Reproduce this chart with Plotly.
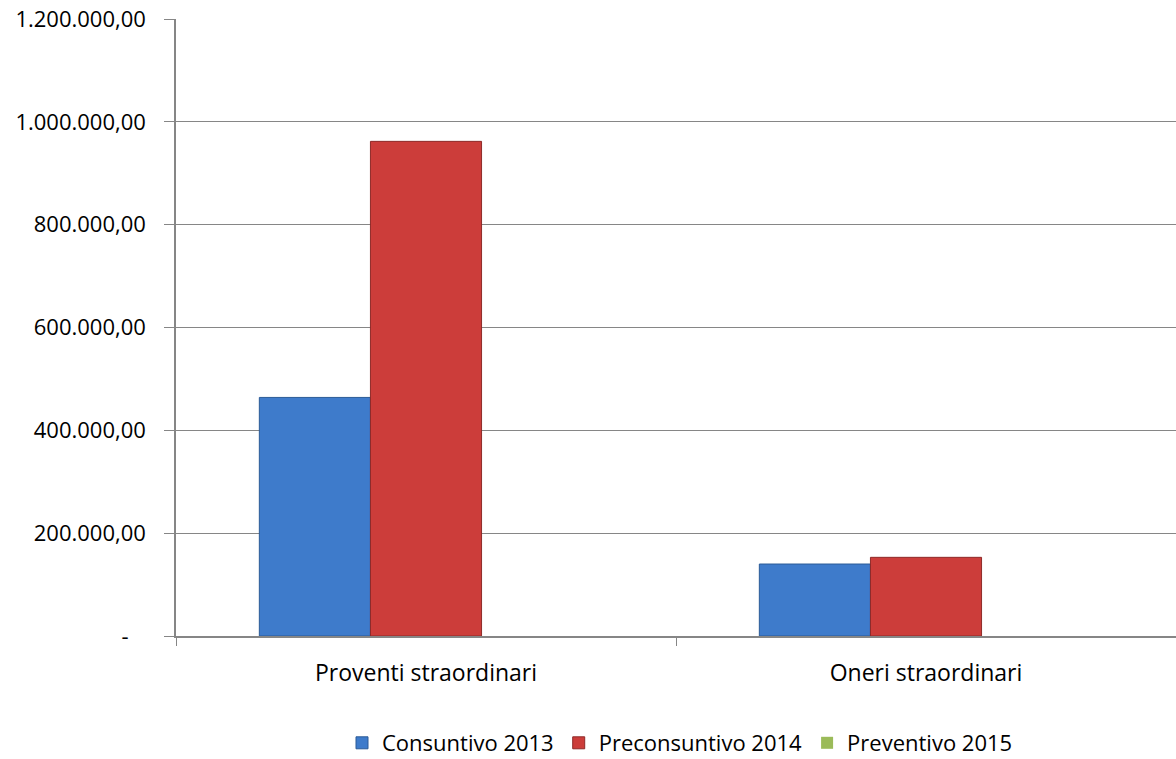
import plotly.graph_objects as go

categories = ["Proventi straordinari", "Oneri straordinari"]
consuntivo_2013 = [464000, 140000]
preconsuntivo_2014 = [962000, 153000]
preventivo_2015 = [0, 0]

series_names = ["Consuntivo 2013", "Preconsuntivo 2014", "Preventivo 2015"]
y_tickvals = [0, 200000, 400000, 600000, 800000, 1000000, 1200000]
y_ticktext = ["-\u00a0\u00a0\u00a0", "200.000,00", "400.000,00", "600.000,00", "800.000,00",
              "1.000.000,00", "1.200.000,00"]

colors = ["#3E7BCB", "#CC3D3A", "#9BBB59"]
line_colors = ["#2B5B97", "#8E2A28", "#71893F"]
line_widths = [1, 1, 0]

fig = go.Figure()
for name, vals, c, lc, lw in zip(series_names,
                                 [consuntivo_2013, preconsuntivo_2014, preventivo_2015],
                                 colors, line_colors, line_widths):
    fig.add_trace(go.Bar(name=name, x=categories, y=vals,
                         marker=dict(color=c, line=dict(color=lc, width=lw))))

font_family = "Open Sans, Liberation Sans, sans-serif"
fig.update_layout(
    width=1176, height=759,
    margin=dict(l=176, r=0, t=19, b=123),
    paper_bgcolor="white", plot_bgcolor="white",
    barmode="group", bargap=1.5 / 4.5, bargroupgap=0,
    font=dict(family=font_family, size=22, color="#000000"),
    showlegend=True,
    legend=dict(orientation="h", x=0.504, xref="paper", xanchor="center",
                y=16 / 759, yref="container", yanchor="middle", font=dict(size=22),
                traceorder="normal", itemwidth=30),
)
fig.update_xaxes(
    type="category", showgrid=False, showline=True, linecolor="#868686",
    linewidth=1.5, ticks="outside", tickson="boundaries", ticklen=8,
    tickcolor="#868686", tickfont=dict(size=23), zeroline=False,
    ticklabelstandoff=16,
)
fig.update_yaxes(
    range=[0, 1200000], tickvals=y_tickvals, ticktext=y_ticktext,
    showgrid=True, gridcolor="#868686", gridwidth=1,
    showline=True, linecolor="#868686", linewidth=1.5,
    ticks="outside", ticklen=10, tickcolor="#868686",
    tickfont=dict(size=22), zeroline=False, ticklabelstandoff=14,
)

fig.write_html("out.html", config={"displayModeBar": False},
               post_script="document.body.style.margin='0px';")
